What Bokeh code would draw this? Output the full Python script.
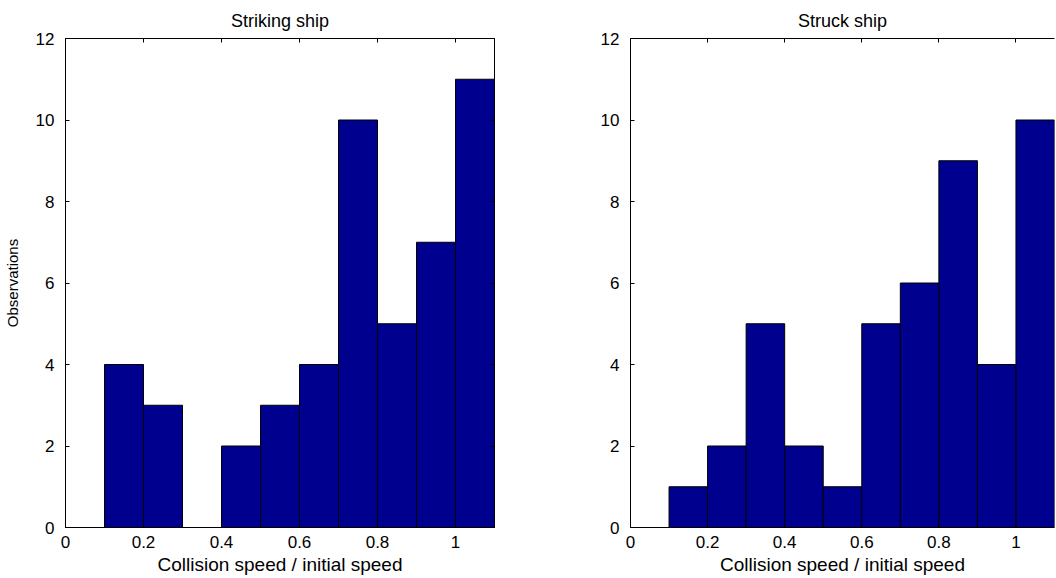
from bokeh.plotting import figure
from bokeh.layouts import row
from bokeh.models import LinearAxis, FixedTicker, Range1d
from bokeh.embed import file_html
from bokeh.resources import INLINE

# ---- data ----
bin_edges = [0.1, 0.2, 0.3, 0.4, 0.5, 0.6, 0.7, 0.8, 0.9, 1.0, 1.1]
striking_counts = [4, 3, 0, 2, 3, 4, 10, 5, 7, 11]
struck_counts = [1, 2, 5, 2, 1, 5, 6, 9, 4, 10]
x_ticks = [0, 0.2, 0.4, 0.6, 0.8, 1.0]
x_tick_labels = ["0", "0.2", "0.4", "0.6", "0.8", "1"]
y_ticks = [0, 2, 4, 6, 8, 10, 12]
y_tick_labels = ["0", "2", "4", "6", "8", "10", "12"]
titles = ["Striking ship", "Struck ship"]
x_label = "Collision speed / initial speed"
y_label = "Observations"

FONT = "Liberation Sans"
BAR = "#00008F"


def style_axis(ax, ticks, labels, show_labels=True, standoff=8):
    ax.ticker = FixedTicker(ticks=ticks)
    ax.major_tick_in = 4
    ax.major_tick_out = 0
    ax.minor_tick_line_color = None
    ax.major_tick_line_color = "black"
    ax.axis_line_color = "black"
    ax.major_label_text_font = FONT
    if show_labels:
        ax.major_label_overrides = {t: l for t, l in zip(ticks, labels)}
        ax.major_label_text_color = "black"
        ax.major_label_text_font_size = "17px"
        ax.major_label_standoff = standoff
    else:
        ax.major_label_overrides = {t: "" for t in ticks}
        ax.major_label_text_color = None
        ax.major_label_text_font_size = "1px"
        ax.major_label_standoff = 0
    ax.axis_label_text_font = FONT
    ax.axis_label_text_font_style = "normal"
    ax.axis_label_text_color = "black"


def make(counts, title, width, bl, br, show_ylabel, right_axis):
    p = figure(width=width, height=578, output_backend="svg", toolbar_location=None,
               x_range=Range1d(0, 1.1), y_range=Range1d(0, 12),
               min_border_left=bl, min_border_right=br, min_border_top=38,
               min_border_bottom=51, x_axis_location=None, y_axis_location=None)
    p.title.text = title
    p.title.text_font = FONT
    p.title.text_font_style = "normal"
    p.title.text_font_size = "18px"
    p.title.align = "center"
    p.title.text_color = "black"
    p.title.standoff = 16
    p.grid.visible = False
    p.background_fill_color = "white"
    p.border_fill_color = "white"
    p.outline_line_color = "black" if right_axis else None

    xb = LinearAxis(axis_label=x_label)
    style_axis(xb, x_ticks, x_tick_labels, standoff=8)
    xb.axis_label_text_font_size = "19px"
    xb.axis_label_standoff = 3
    p.add_layout(xb, "below")
    yl = LinearAxis(axis_label=y_label if show_ylabel else None)
    style_axis(yl, y_ticks, y_tick_labels, standoff=11)
    yl.axis_label_text_font_size = "15px"
    yl.axis_label_standoff = 12
    p.add_layout(yl, "left")
    xt = LinearAxis()
    style_axis(xt, x_ticks, x_tick_labels, show_labels=False)
    p.add_layout(xt, "above")
    if right_axis:
        yr = LinearAxis()
        style_axis(yr, y_ticks, y_tick_labels, show_labels=False)
        p.add_layout(yr, "right")

    p.quad(left=bin_edges[:-1], right=bin_edges[1:], bottom=0, top=counts,
           fill_color=BAR, line_color="black", line_width=1)
    return p


p1 = make(striking_counts, titles[0], 568, 65, 74, True, True)
p2 = make(struck_counts, titles[1], 488, 62, 2, False, False)
layout = row(p1, p2)

open("out.html", "w").write(file_html(layout, INLINE))
